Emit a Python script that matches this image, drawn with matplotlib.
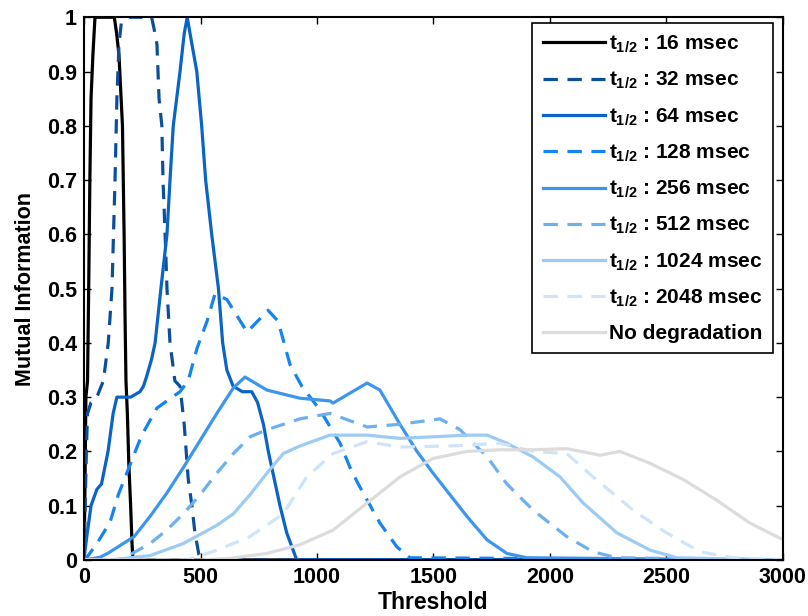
import matplotlib
matplotlib.use("Agg")
import matplotlib.pyplot as plt

plt.rcParams['font.family'] = ['Liberation Sans', 'DejaVu Sans']
plt.rcParams['font.weight'] = 'bold'
plt.rcParams['mathtext.fontset'] = 'custom'
plt.rcParams['mathtext.rm'] = 'Liberation Sans:bold'
plt.rcParams['mathtext.it'] = 'Liberation Sans:bold'
plt.rcParams['mathtext.bf'] = 'Liberation Sans:bold'

# data
x16 = [0, 3, 8, 15, 20, 25, 30, 38, 47, 130, 140, 150, 165, 172, 176, 180, 186, 192, 200, 206, 210, 3000]
y16 = [0, 0.1, 0.3, 0.33, 0.5, 0.7, 0.85, 0.93, 1.0, 1.0, 0.97, 0.93, 0.8, 0.6, 0.45, 0.33, 0.27, 0.18, 0.1, 0.03, 0, 0]

x32 = [0, 5, 10, 15, 30, 55, 83, 104, 112, 120, 133, 141, 150, 160, 190, 290, 300, 313, 322, 334,
       339, 348, 356, 369, 390, 412, 430, 447, 463, 476, 493, 510, 3000]
y32 = [0, 0.1, 0.2, 0.27, 0.29, 0.3, 0.33, 0.4, 0.45, 0.5, 0.7, 0.85, 0.95, 0.99, 1.0, 1.0, 0.98, 0.95, 0.85, 0.8,
       0.7, 0.6, 0.5, 0.4, 0.33, 0.32, 0.25, 0.15, 0.1, 0.05, 0.01, 0, 0]

x64 = [0, 5, 14, 30, 55, 75, 103, 125, 141, 200, 240, 255, 270, 290, 305, 330, 356, 369, 383, 412, 430, 443,
       455, 484, 505, 522, 548, 577, 595, 613, 640, 680, 720, 745, 770, 791, 841, 870, 913, 3000]
y64 = [0, 0.02, 0.05, 0.1, 0.13, 0.14, 0.2, 0.27, 0.30, 0.30, 0.31, 0.32, 0.34, 0.37, 0.4, 0.5, 0.6, 0.7, 0.8, 0.9, 0.97, 1.0,
       0.97, 0.9, 0.8, 0.7, 0.6, 0.5, 0.4, 0.35, 0.32, 0.31, 0.31, 0.29, 0.25, 0.2, 0.1, 0.05, 0, 0]

x128 = [0, 4, 55, 112, 147, 220, 248, 313, 412, 447, 485, 528, 562, 613, 700, 790, 833, 884, 935,
        1013, 1099, 1142, 1177, 1270, 1343, 1399, 3000]
y128 = [0, 0, 0.03, 0.07, 0.12, 0.2, 0.23, 0.28, 0.31, 0.33, 0.39, 0.44, 0.49, 0.48, 0.42, 0.46, 0.44, 0.36, 0.32,
        0.276, 0.215, 0.17, 0.14, 0.068, 0.024, 0.004, 0]

x256 = [0, 69, 105, 215, 283, 355, 426, 498, 570, 641, 691, 785, 927, 1056, 1069, 1215, 1270, 1356,
        1429, 1498, 1644, 1730, 1815, 1901, 3000]
y256 = [0, 0.005, 0.013, 0.043, 0.08, 0.123, 0.17, 0.22, 0.27, 0.317, 0.337, 0.313, 0.298, 0.293, 0.289, 0.326, 0.313, 0.25,
        0.2, 0.16, 0.08, 0.037, 0.012, 0.004, 0]

x512 = [0, 150, 211, 283, 355, 426, 498, 570, 641, 713, 785, 927, 1056, 1215, 1356, 1528, 1614, 1730,
        1815, 1927, 2072, 2185, 2287, 3000]
y512 = [0, 0, 0.013, 0.03, 0.055, 0.085, 0.12, 0.16, 0.196, 0.227, 0.24, 0.26, 0.27, 0.245, 0.25, 0.26, 0.24, 0.19,
        0.14, 0.092, 0.043, 0.015, 0.004, 0]

x1024 = [0, 112, 283, 425, 571, 641, 712, 785, 855, 927, 1056, 1215, 1356, 1644, 1730, 1815, 1927, 2043,
         2142, 2287, 2430, 2545, 3000]
y1024 = [0, 0, 0.008, 0.03, 0.064, 0.085, 0.12, 0.16, 0.196, 0.21, 0.23, 0.23, 0.224, 0.23, 0.23, 0.215, 0.19, 0.153,
         0.105, 0.05, 0.018, 0.004, 0]

x2048 = [0, 442, 571, 712, 855, 956, 1069, 1215, 1356, 1571, 1785, 1927, 2072, 2185, 2356, 2500, 2644, 2786, 3000]
y2048 = [0, 0, 0.018, 0.043, 0.085, 0.153, 0.196, 0.218, 0.208, 0.21, 0.215, 0.2, 0.196, 0.153, 0.092, 0.05, 0.015, 0.004, 0]

xnd = [0, 500, 627, 785, 927, 1069, 1215, 1356, 1498, 1644, 1785, 1927, 2072, 2215, 2300, 2430, 2573, 2716, 2858, 2987, 3000]
ynd = [0, 0, 0.003, 0.012, 0.028, 0.055, 0.105, 0.153, 0.187, 0.2, 0.203, 0.203, 0.205, 0.193, 0.2, 0.178, 0.148, 0.11, 0.068, 0.04, 0.038]

labels = [r'$t_{1/2}$ : 16 msec', r'$t_{1/2}$ : 32 msec', r'$t_{1/2}$ : 64 msec', r'$t_{1/2}$ : 128 msec',
          r'$t_{1/2}$ : 256 msec', r'$t_{1/2}$ : 512 msec', r'$t_{1/2}$ : 1024 msec', r'$t_{1/2}$ : 2048 msec',
          'No degradation']
colors = ['#000000', '#0b4f9c', '#0a64c8', '#1583f2', '#3d96ee', '#6cb0f0', '#9ccbf4', '#cfe4fa', '#dcdcdc']
dashed = [False, True, False, True, False, True, False, True, False]

xs = [x16, x32, x64, x128, x256, x512, x1024, x2048, xnd]
ys = [y16, y32, y64, y128, y256, y512, y1024, y2048, ynd]

fig = plt.figure(figsize=(8.08, 6.16), dpi=100)
ax = fig.add_axes([0.104, 0.091, 0.865, 0.881])

for i in range(len(xs)):
    if dashed[i]:
        ax.plot(xs[i], ys[i], color=colors[i], lw=2.3, dashes=(4.5, 3), label=labels[i])
    else:
        ax.plot(xs[i], ys[i], color=colors[i], lw=2.3, label=labels[i])

ax.set_xlim(0, 3000)
ax.set_ylim(0, 1)
ax.set_xticks([0, 500, 1000, 1500, 2000, 2500, 3000])
ax.set_yticks([0, 0.1, 0.2, 0.3, 0.4, 0.5, 0.6, 0.7, 0.8, 0.9, 1])
ax.set_yticklabels(['0', '0.1', '0.2', '0.3', '0.4', '0.5', '0.6', '0.7', '0.8', '0.9', '1'])
ax.tick_params(direction='in', top=True, right=True, length=5, width=1, labelsize=15.5, pad=5)
for s in ax.spines.values():
    s.set_linewidth(1.5)
ax.set_xlabel('Threshold', fontsize=16.5, fontweight='bold', labelpad=2)
ax.set_ylabel('Mutual Information', fontsize=15.5, fontweight='bold', labelpad=8)

leg = ax.legend(loc='upper right', fontsize=15, handlelength=3.0, handletextpad=0.2,
                labelspacing=0.72, fancybox=False, framealpha=1, edgecolor='black',
                borderpad=0.5, borderaxespad=0, bbox_to_anchor=(0.986, 0.989))
leg.get_frame().set_linewidth(1.2)

fig.savefig('out.png', dpi=100)
